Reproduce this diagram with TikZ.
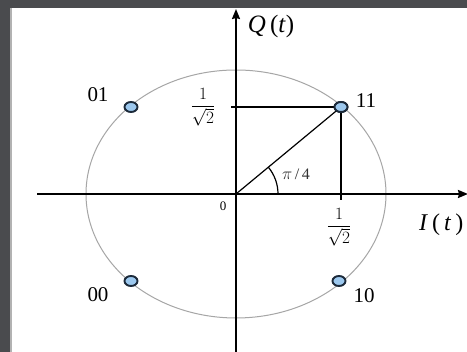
\documentclass[tikz,border=0pt]{standalone}
\usepackage{fontspec}
\setmainfont{Liberation Serif}
\usetikzlibrary{arrows.meta,shapes.geometric}
\definecolor{bgdark}{HTML}{4A4B4E}
\definecolor{dotfill}{HTML}{9CC8EE}
\definecolor{dotline}{HTML}{1C2A3A}
\tikzset{
  axis/.style={line width=1.9pt,-{Stealth[length=10pt,width=8pt,inset=1pt]}},
  guide/.style={line width=1.2pt},
  sym/.style={ellipse,draw=dotline,fill=dotfill,line width=1.9pt,minimum width=13pt,minimum height=10pt,inner sep=0pt},
  lab/.style={font=\fontsize{21}{21}\selectfont,inner sep=0pt},
  fraclab/.style={font=\fontsize{17}{17}\selectfont,inner sep=0pt}
}
\begin{document}
\begin{tikzpicture}[x=1pt,y=1pt]
\useasboundingbox (0,0) rectangle (467,352);
\fill[bgdark] (0,0) rectangle (467,352);
\fill[gray!60] (10,0) rectangle (12,344);
\fill[white] (12,0) rectangle (467,344);
% circle
\draw[gray!70,line width=1pt] (236,158) ellipse [x radius=150,y radius=124];
% points
\coordinate (O) at (236,158);
\node[sym] (s11) at (341,245) {};
\node[sym] (s01) at (131,245) {};
\node[sym] (s00) at (131,71) {};
\node[sym] (s10) at (339,71) {};
% guides
\coordinate (ty) at (231,245);
\coordinate (tx) at (341,152);
\draw[guide] (ty) -- (s11.center);
\draw[guide] (s11.center) -- (tx);
\draw[guide] (O) -- (s11.center);
\draw[guide] (278,158) arc[start angle=0,end angle=39.6,radius=42];
% axes
\coordinate (xl) at (37,158);
\coordinate (xr) at (468,158);
\coordinate (yb) at (236,0);
\coordinate (yt) at (236,343);
\draw[axis] (xl) -- (xr);
\draw[axis] (yb) -- (yt);
% redraw dot on top
\node[sym] at (341,245) {};
% labels
\node[font=\fontsize{25}{25}\selectfont,inner sep=0pt] (q) at (271,326) {\textit{Q}\,(\textit{t})};
\node[font=\fontsize{24}{24}\selectfont,inner sep=0pt,anchor=west] (i) at (419,127) {\textit{I}\,(\,\textit{t}\,)};
\node[font=\fontsize{13}{13}\selectfont,inner sep=0pt] (zero) at (223,146) {0};
\node[font=\fontsize{16}{16}\selectfont,inner sep=0pt,text=black!80] (ang) at (296,178) {$\pi$\,/\,4};
\node[fraclab] (fy) at (203,245) {$\displaystyle\frac{\,1\,}{\sqrt{2}}$};
\node[fraclab] (fx) at (339,125) {$\displaystyle\frac{\,1\,}{\sqrt{2}}$};
\node[lab] (l01) at (98,257) {01};
\node[lab] (l11) at (366,251) {11};
\node[lab] (l00) at (98,57) {00};
\node[lab] (l10) at (364,56) {10};
\end{tikzpicture}
\end{document}
